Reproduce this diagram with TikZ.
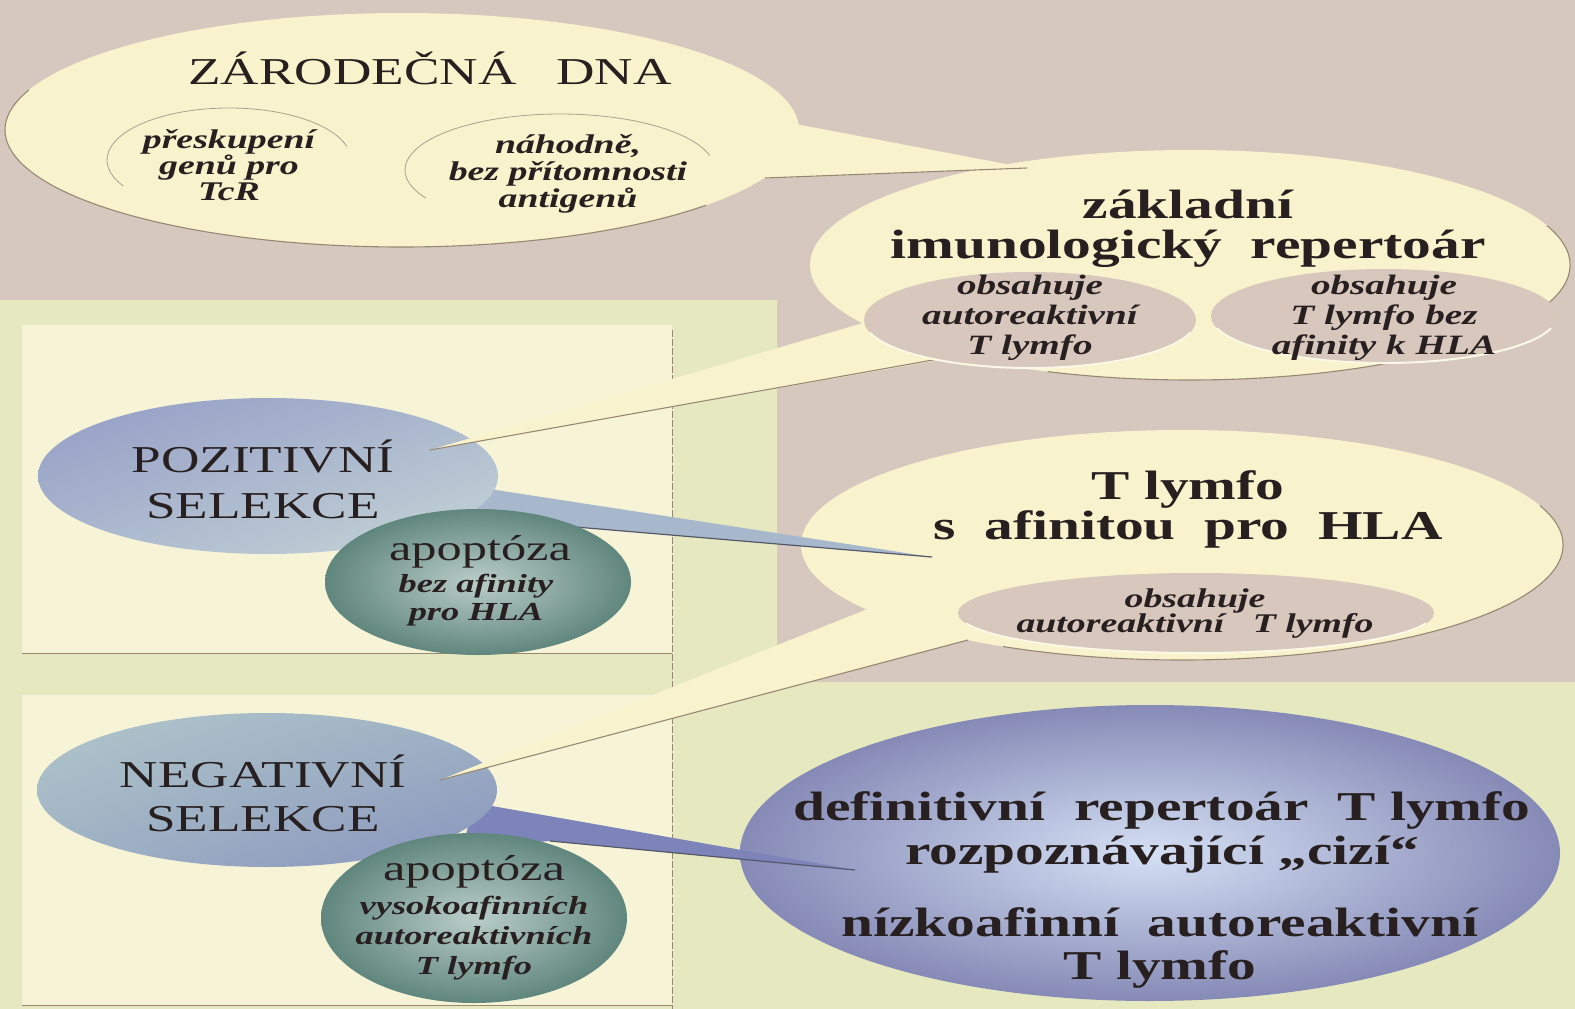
\documentclass[tikz,border=0pt]{standalone}
\usepackage{fontspec}
\setmainfont{Liberation Serif}[FakeStretch=1.4]
\usetikzlibrary{shadings}
\definecolor{bgpink}{RGB}{214,200,190}
\definecolor{panelg}{RGB}{230,232,192}
\definecolor{boxc}{RGB}{246,243,215}
\definecolor{cream}{RGB}{248,243,204}
\definecolor{pinkin}{RGB}{215,199,189}
\definecolor{ink}{RGB}{40,32,32}
\definecolor{rim}{RGB}{150,136,116}
\definecolor{edgeln}{RGB}{85,88,105}
\definecolor{pozA}{RGB}{148,156,198}
\definecolor{pozM}{RGB}{170,184,206}
\definecolor{pozB}{RGB}{198,214,214}
\definecolor{negA}{RGB}{176,198,202}
\definecolor{negM}{RGB}{158,178,196}
\definecolor{negB}{RGB}{138,148,190}
\definecolor{apoA}{RGB}{96,134,126}
\definecolor{apoB}{RGB}{186,206,200}
\definecolor{defA}{RGB}{134,138,182}
\definecolor{defB}{RGB}{212,224,244}
\definecolor{poztail}{RGB}{168,184,204}
\definecolor{negtail}{RGB}{124,132,186}
\newcommand\fsz[2]{\fontsize{#1}{#2}\selectfont}
\tikzset{
  lab/.style={text=ink, align=center, inner sep=0pt},
  rimline/.style={draw=rim, line width=1.1pt},
  tailedge/.style={draw=edgeln, line width=1.2pt},
}
\begin{document}
\begin{tikzpicture}[x=1pt,y=-1pt]
\useasboundingbox (0,0) rectangle (1575,1009);
% background and panels
\fill[bgpink] (0,0) rectangle (1575,1009);
\fill[panelg] (0,300) -- (777,300) -- (777,682) -- (1575,682) -- (1575,1009) -- (0,1009) -- cycle;
\fill[boxc] (22,325) rectangle (672,653);
\fill[boxc] (22,695) rectangle (672,1005);
\draw[rim, line width=0.8pt] (22,653) -- (672,653);
\draw[rim, line width=0.8pt] (22,1005) -- (672,1005);
\draw[rim, line width=0.8pt, dash pattern=on 7pt off 2pt] (672,330) -- (672,1009);

% cream bubbles
\fill[cream] (402,130) ellipse [x radius=397, y radius=117];
\draw[rimline] (402,130) ++(40:397 and 117) arc[start angle=40, end angle=200, x radius=397, y radius=117];
\fill[cream] (1190,265) ellipse [x radius=380, y radius=115];
\draw[rimline] (1190,265) ++(-20:380 and 115) arc[start angle=-20, end angle=112, x radius=380, y radius=115];
\fill[cream] (1182,545) ellipse [x radius=381, y radius=115];
\draw[rimline] (1182,545) ++(-20:381 and 115) arc[start angle=-20, end angle=118, x radius=381, y radius=115];

% tail of the top bubble
\coordinate (t0) at (1027,168);
\fill[cream] (755,179) -- (785,122) -- (t0) -- cycle;
\draw[rimline] (t0) -- (765,178);

% definitive repertoire ellipse
\shade[inner color=defB, outer color=defA] (1150,853) ellipse [x radius=410, y radius=148];

% positive selection
\coordinate (t1) at (932,557);
\fill[poztail] (470,486) -- (t1) -- (540,524) -- (460,540) -- cycle;
\draw[tailedge] (t1) -- (540,524);
\shade[upper left=pozA, upper right=pozM, lower left=pozM, lower right=pozB] (268,476) ellipse [x radius=230, y radius=78];
\shade[inner color=apoB, outer color=apoA] (478,582) ellipse [x radius=153, y radius=73];

% negative selection
\coordinate (t2) at (855,870);
\fill[negtail] (475,803) -- (t2) -- (550,841) -- (462,848) -- cycle;
\draw[tailedge] (t2) -- (550,841);
\shade[upper left=negA, upper right=negM, lower left=negM, lower right=negB] (267,790) ellipse [x radius=230, y radius=77];
\shade[inner color=apoB, outer color=apoA] (474,918) ellipse [x radius=153, y radius=85];

% cream tails pointing to selection ellipses
\coordinate (t3) at (430,450);
\fill[cream] (t3) -- (880,318) -- (970,352) -- (956,357) -- cycle;
\draw[rimline] (t3) -- (955,356);
\coordinate (t4) at (440,780);
\fill[cream] (t4) -- (890,600) -- (975,638) -- cycle;
\draw[rimline] (t4) -- (968,640);

% inner pink ellipses
\fill[pinkin] (1030,320) ellipse [x radius=166, y radius=48];
\draw[white!50!cream, line width=2pt] (1030,320) ++(15:166 and 48) arc[start angle=15, end angle=165, x radius=166, y radius=48];
\fill[pinkin] (1384,316) ellipse [x radius=173, y radius=47];
\draw[white!50!cream, line width=2pt] (1384,316) ++(15:173 and 47) arc[start angle=15, end angle=165, x radius=173, y radius=47];
\fill[pinkin] (1196,613) ellipse [x radius=238, y radius=40];
\draw[white!50!cream, line width=2pt] (1196,613) ++(15:238 and 40) arc[start angle=15, end angle=165, x radius=238, y radius=40];

% thin outlines inside the top bubble
\draw[rim!80, line width=0.8pt] (229,160) ++(150:122 and 52) arc[start angle=150, end angle=345, x radius=122, y radius=52];
\draw[rim!80, line width=0.8pt] (560,170) ++(150:155 and 56) arc[start angle=150, end angle=345, x radius=155, y radius=56];

% texts
\node[lab, font=\fsz{38}{44}] (zdna) at (430,68) {ZÁRODEČNÁ\ \ \ DNA};
\node[lab, font=\fsz{27}{26}\bfseries\itshape] (presk) at (229,165) {přeskupení\\genů pro\\TcR};
\node[lab, font=\fsz{27}{27}\bfseries\itshape] (nahod) at (568,174) {náhodně,\\bez přítomnosti\\antigenů};
\node[lab, font=\fsz{41}{40}\bfseries] (zakl) at (1188,229) {základní\\imunologický\ \ repertoár};
\node[lab, font=\fsz{28}{30}\bfseries\itshape] (obs1) at (1030,318) {obsahuje\\autoreaktivní\\T lymfo};
\node[lab, font=\fsz{28}{30}\bfseries\itshape] (obs2) at (1384,318) {obsahuje\\T lymfo bez\\afinity k HLA};
\node[lab, font=\fsz{41}{40}\bfseries] (tly) at (1188,509) {T lymfo\\s\ \ afinitou\ \ pro\ \ HLA};
\node[lab, font=\fsz{27}{25}\bfseries\itshape] (obs3) at (1195,614) {obsahuje\\autoreaktivní\ \ \ T lymfo};
\node[lab, font=\fsz{38}{46}] (poz) at (263,479) {POZITIVNÍ\\SELEKCE};
\node[lab, font=\fsz{36}{36}] (apo1) at (480,552) {apoptóza};
\node[lab, font=\fsz{26}{28}\bfseries\itshape] (apo1t) at (476,600) {bez afinity\\pro HLA};
\node[lab, font=\fsz{38}{44}] (neg) at (263,793) {NEGATIVNÍ\\SELEKCE};
\node[lab, font=\fsz{36}{36}] (apo2) at (474,872) {apoptóza};
\node[lab, font=\fsz{26}{30}\bfseries\itshape] (apo2t) at (474,938) {vysokoafinních\\autoreaktivních\\T lymfo};
\node[lab, font=\fsz{41}{44}\bfseries] (defa) at (1162,832) {definitivní\ \ repertoár\ \ T lymfo\\rozpoznávající „cizí“};
\node[lab, font=\fsz{41}{43}\bfseries] (defb) at (1160,948) {nízkoafinní\ \ autoreaktivní\\T lymfo};
\end{tikzpicture}
\end{document}
